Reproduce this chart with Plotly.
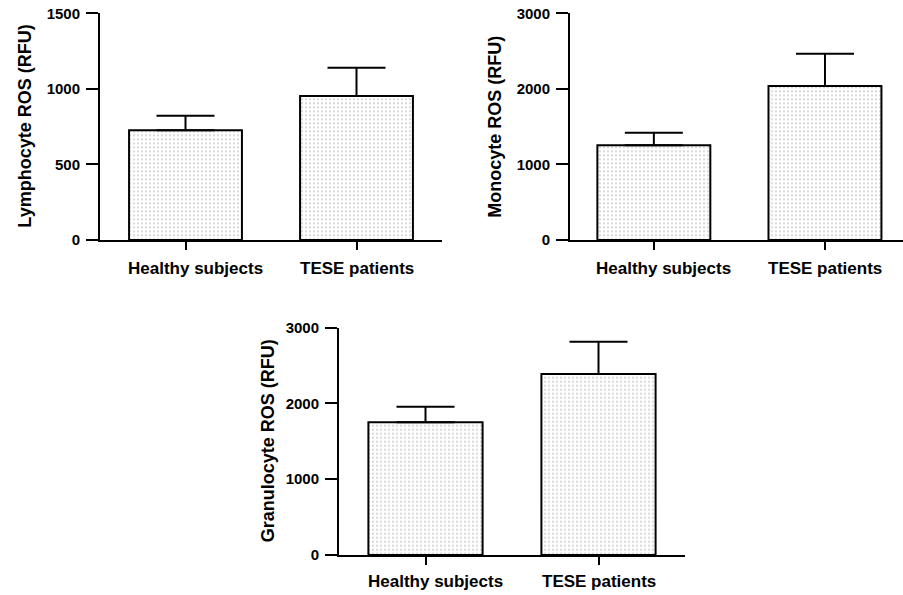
import plotly.graph_objects as go

categories = ["Healthy subjects", "TESE patients"]

lympho_mean = [726, 953]
lympho_err = [96, 187]
mono_mean = [1253, 2038]
mono_err = [167, 427]
granulo_mean = [1751, 2389]
granulo_err = [207, 427]

ytitles = ["Lymphocyte ROS (RFU)", "Monocyte ROS (RFU)", "Granulocyte ROS (RFU)"]
yranges = [[0, 1500], [0, 3000], [0, 3000]]
ytickvals = [[0, 500, 1000, 1500], [0, 1000, 2000, 3000], [0, 1000, 2000, 3000]]

FONT = "Liberation Sans, Arial, sans-serif"

fig = go.Figure()

panels = [
    dict(mean=lympho_mean, err=lympho_err, xa="x", ya="y",
         xdom=[100/903, 442/903], ydom=[(595-240)/595, (595-13.3)/595], xr=[-0.5, 1.5],
         labx=25/903, lab_off=-28),
    dict(mean=mono_mean, err=mono_err, xa="x2", ya="y2",
         xdom=[570/903, 1.0], ydom=[(595-240)/595, (595-13.3)/595], xr=[-0.49, 1.456],
         labx=495/903, lab_off=-28),
    dict(mean=granulo_mean, err=granulo_err, xa="x3", ya="y3",
         xdom=[339/903, 685/903], ydom=[(595-555)/595, (595-327.7)/595], xr=[-0.5, 1.5],
         labx=268/903, lab_off=-26),
]
label_shift = [10, 0]

for i, p in enumerate(panels):
    fig.add_trace(go.Bar(
        x=categories, y=p["mean"], xaxis=p["xa"], yaxis=p["ya"],
        width=0.66,
        marker=dict(color="white", line=dict(color="black", width=2),
                    pattern=dict(shape=".", fgcolor="#4a4a4a", bgcolor="white", size=4, solidity=0.12)),
        error_y=dict(type="data", array=p["err"], arrayminus=[0, 0], symmetric=False,
                     color="black", thickness=2, width=29),
        showlegend=False,
    ))
    sfx = "" if i == 0 else str(i + 1)
    fig.update_layout(**{
        "xaxis" + sfx: dict(domain=p["xdom"], range=p["xr"], anchor="y" + sfx,
                            showline=True, linecolor="black", linewidth=2, automargin=False,
                            ticks="outside", ticklen=8, tickwidth=2, tickcolor="black",
                            showgrid=False, zeroline=False, showticklabels=False),
        "yaxis" + sfx: dict(domain=p["ydom"], range=yranges[i], anchor="x" + sfx,
                            tickvals=ytickvals[i], automargin=False,
                            showline=True, linecolor="black", linewidth=2,
                            ticks="outside", ticklen=12, tickwidth=2, tickcolor="black",
                            showgrid=False, zeroline=False, ticklabelstandoff=3,
                            tickfont=dict(family=FONT, size=15, color="black", weight="bold")),
    })
    fig.add_annotation(
        text=ytitles[i], xref="paper", yref="paper", x=p["labx"],
        y=(p["ydom"][0] + p["ydom"][1]) / 2, textangle=-90, showarrow=False,
        xanchor="center", yanchor="middle",
        font=dict(family=FONT, size=18, color="black", weight="bold"),
    )
    for j, cat in enumerate(categories):
        fig.add_annotation(
            text=cat, xref=p["xa"], yref="paper", x=cat, y=p["ydom"][0],
            xanchor="center", yanchor="middle", showarrow=False,
            xshift=label_shift[j], yshift=p["lab_off"],
            font=dict(family=FONT, size=17, color="black", weight="bold"),
        )

fig.update_layout(
    width=903, height=595,
    margin=dict(l=0, r=0, t=0, b=0, autoexpand=False),
    paper_bgcolor="white", plot_bgcolor="white",
    bargap=0.34,
)

fig.write_html(
    "out.html",
    config={"displayModeBar": False},
    post_script="document.body.style.margin='0';document.body.style.padding='0';document.body.style.overflow='hidden';",
)
